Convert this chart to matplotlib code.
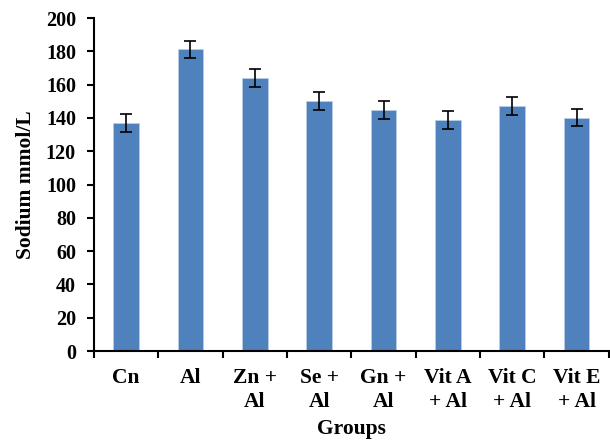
import matplotlib.pyplot as plt
import numpy as np

groups = ["Cn", "Al", "Zn +\nAl", "Se +\nAl", "Gn +\nAl", "Vit A\n+ Al", "Vit C\n+ Al", "Vit E\n+ Al"]
sodium = [137.0, 181.3, 163.8, 150.0, 145.0, 138.8, 147.4, 140.0]
errors = [5.4, 5.0, 5.4, 5.3, 5.4, 5.3, 5.4, 5.1]
yticks = list(range(0, 201, 20))

plt.rcParams['font.family'] = ['Liberation Serif', 'DejaVu Serif']
plt.rcParams['font.weight'] = 'bold'

fig = plt.figure(figsize=(6.10, 4.41), dpi=100)
ax = fig.add_axes([0.154, 0.204, 0.844, 0.755])

x = np.arange(len(groups))
ax.bar(x, sodium, width=0.4, color='#4F81BD', edgecolor='#B9CDE5', linewidth=0.6,
       yerr=errors, capsize=4,
       error_kw=dict(ecolor='black', elinewidth=1.2, capthick=1.2))

ax.set_xlim(-0.5, len(groups) - 0.5)
ax.set_ylim(0, 200)
ax.set_yticks(yticks)
ax.set_yticklabels([str(v) for v in yticks], fontsize=14.5, fontweight='bold')

# boundary ticks without labels, labels centered on bars
ax.set_xticks(np.arange(-0.5, len(groups), 1.0))
ax.set_xticklabels([])
ax.set_xticks(x, minor=True)
ax.set_xticklabels(groups, minor=True, fontsize=15.5, fontweight='bold', linespacing=1.3)
ax.tick_params(axis='x', which='minor', length=0, pad=12)
ax.tick_params(axis='x', which='major', length=5, width=1.5, direction='out')
ax.tick_params(axis='y', length=5, width=1.5, direction='out', pad=8)

for s in ['top', 'right']:
    ax.spines[s].set_visible(False)
for s in ['left', 'bottom']:
    ax.spines[s].set_linewidth(1.5)

ax.set_xlabel("Groups", fontsize=15.5, fontweight='bold', labelpad=5)
ax.set_ylabel("Sodium mmol/L", fontsize=15.5, fontweight='bold', labelpad=7)

fig.savefig("out.png", dpi=100)
